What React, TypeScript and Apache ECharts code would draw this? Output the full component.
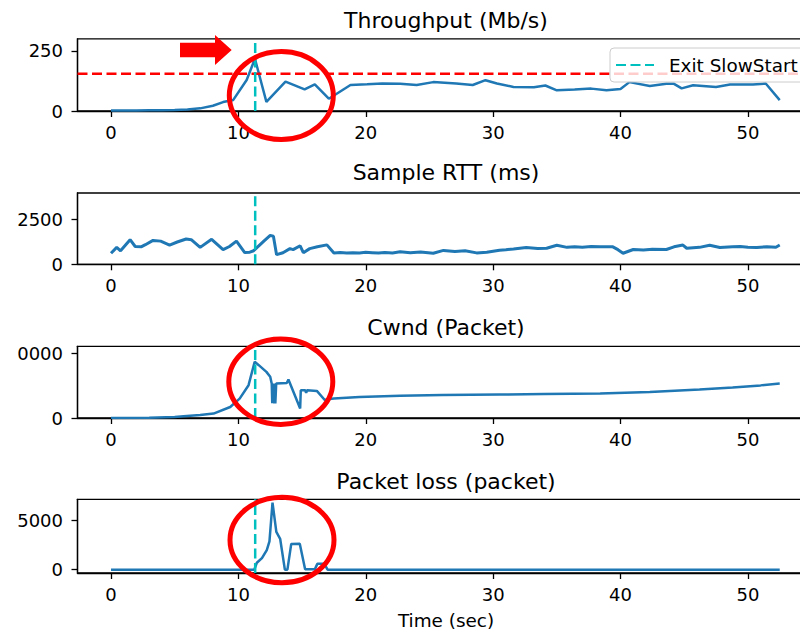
import React, { useEffect, useRef } from "react";
import * as echarts from "echarts";

// ---------- data ----------
const xTicks = [0, 10, 20, 30, 40, 50];
const exitSlowStartTime = 11.32;
const throughputLimit = 155;

const panelTitles = ["Throughput (Mb/s)", "Sample RTT (ms)", "Cwnd (Packet)", "Packet loss (packet)"];
const xAxisTitle = "Time (sec)";
const legendLabel = "Exit SlowStart";

const thrTicks = [0, 250];
const thrTickLabels = ["0", "250"];
const rttTicks = [0, 2500];
const rttTickLabels = ["0", "2500"];
const cwndTicks = [0, 10000];
const cwndTickLabels = ["0", "0000"]; // leading digit is cropped off in the reference
const lossTicks = [0, 5000];
const lossTickLabels = ["0", "5000"];

const thrTime = [0, 1, 2, 3, 4, 5, 6, 7, 8, 8.8, 9.6, 10.65, 11.3, 12.2, 13.7, 15.2, 16.0, 17.1, 18.8, 20.1, 21.3, 22.7, 24.0, 25.3, 27.1, 28.4, 29.4, 30.3, 31.6, 33.2, 34.1, 35.0, 36.4, 37.7, 38.9, 40.0, 40.7, 42.3, 43.6, 44.2, 44.8, 45.7, 47.5, 48.6, 50.4, 51.4, 52.5];
const thrValue = [2, 2, 2, 3, 3, 4, 6, 11, 22, 37, 46, 129, 217, 38, 122, 90, 111, 51, 108, 111, 114, 113, 108, 120, 114, 108, 128, 114, 100, 99, 106, 86, 89, 93, 86, 91, 120, 104, 113, 113, 94, 107, 100, 110, 110, 114, 45];

const rttTime = [0, 0.45, 0.75, 1.5, 1.9, 2.4, 2.7, 3.3, 3.9, 4.6, 5.2, 5.9, 6.3, 7.0, 7.9, 8.8, 9.3, 9.85, 10.5, 10.9, 11.2, 12.0, 12.5, 12.75, 13.0, 13.5, 14.05, 14.3, 14.85, 15.1, 15.6, 16.2, 16.95, 17.5, 18.0, 18.5, 19.0, 19.5, 20.0, 20.5, 21.0, 21.5, 22.1, 22.7, 23.5, 24.3, 25.3, 26.1, 27.0, 27.8, 28.7, 29.5, 30.5, 31.0, 31.6, 32.1, 32.6, 33.5, 34.2, 35.0, 35.8, 36.4, 37.0, 37.7, 38.4, 39.4, 39.8, 40.2, 41.0, 41.8, 42.5, 43.6, 44.2, 44.9, 45.2, 46.2, 47.0, 47.8, 48.8, 49.4, 50.0, 50.7, 51.5, 52.2, 52.5];
const rttValue = [620, 950, 760, 1380, 1000, 990, 1100, 1340, 1300, 1080, 1250, 1420, 1380, 950, 1400, 820, 1000, 1300, 660, 680, 760, 1300, 1620, 1580, 540, 650, 880, 820, 1040, 650, 880, 980, 1090, 640, 660, 630, 650, 640, 670, 650, 630, 660, 640, 700, 650, 690, 620, 780, 720, 760, 640, 680, 790, 820, 860, 900, 940, 880, 900, 1070, 950, 980, 960, 1000, 990, 980, 820, 620, 830, 800, 840, 830, 980, 1080, 900, 950, 1070, 940, 980, 1000, 960, 940, 990, 960, 1080];

const cwndTime = [0, 3, 5, 5.7, 7, 8.05, 9.36, 10.1, 10.8, 11.28, 11.6, 12.2, 12.5, 12.62, 12.66, 12.7, 12.74, 12.78, 12.82, 12.86, 12.9, 12.97, 13.8, 13.93, 14.85, 14.9, 15.25, 15.32, 15.4, 16.16, 16.8, 17.0, 17.5, 19.5, 22.7, 26, 30.5, 34, 38.4, 42.3, 46.2, 48.8, 51, 52.5];
const cwndValue = [0, 30, 150, 264, 450, 680, 1700, 3000, 5080, 8700, 8180, 7140, 6370, 5300, 2300, 5300, 2300, 5340, 2236, 5340, 2236, 5340, 5430, 5960, 1460, 4300, 4300, 3900, 4300, 4190, 2750, 2900, 3010, 3260, 3450, 3550, 3633, 3700, 3790, 4040, 4410, 4720, 5050, 5340];

const lossTime = [0, 11.25, 11.45, 11.85, 12.23, 12.44, 12.68, 12.98, 13.28, 13.65, 13.85, 14.15, 14.82, 15.24, 16.0, 16.2, 16.75, 17.0, 52.5];
const lossValue = [0, 0, 700, 1180, 2000, 2890, 6840, 3850, 3150, 0, 0, 2630, 2650, 30, 30, 590, 590, 0, 0];

// ---------- layout / style ----------
const FONT = "DejaVu Sans";
const BLUE = "#1f77b4";
const CYAN = "#00bfbf";
const RED = "#ff0000";
const X_MIN = -2.63;
const X_MAX = 55.23;
const GRID_LEFT = 77.5;
const GRID_WIDTH = 737;
const panels = [
  { top: 38.8, height: 72.2, min: 0, max: 300, ticks: thrTicks, labels: thrTickLabels, titleTop: 9 },
  { top: 193, height: 71.3, min: 0, max: 4000, ticks: rttTicks, labels: rttTickLabels, titleTop: 161.5 },
  { top: 346.3, height: 71.7, min: 0, max: 11100, ticks: cwndTicks, labels: cwndTickLabels, titleTop: 316.5 },
  { top: 499.3, height: 73.7, min: -342, max: 7180, ticks: lossTicks, labels: lossTickLabels, titleTop: 470.3 },
];

const zip = (a: number[], b: number[]) => a.map((t, i) => [t, b[i]]);

export default function App() {
  const ref = useRef<HTMLDivElement>(null);
  useEffect(() => {
    if (!ref.current) return;
    const chart = echarts.init(ref.current, undefined, { renderer: "svg" });
    const axisLineStyle = { color: "#000", width: 1.3 };
    const labelStyle = { fontFamily: FONT, fontSize: 18, color: "#000" };

    const grid = panels.map((p) => ({
      left: GRID_LEFT,
      width: GRID_WIDTH,
      top: p.top,
      height: p.height,
      show: true,
      borderColor: "#000",
      borderWidth: 1.3,
      backgroundColor: "transparent",
    }));

    const xAxis = panels.map((p, i) => ({
      type: "value",
      gridIndex: i,
      min: X_MIN,
      max: X_MAX,
      axisLine: { show: true, onZero: false, lineStyle: axisLineStyle },
      axisTick: { show: true, length: 6, customValues: xTicks, lineStyle: axisLineStyle },
      axisLabel: { ...labelStyle, margin: 12, customValues: xTicks, formatter: (v: number) => String(v) },
      splitLine: { show: false },
      name: i === 3 ? xAxisTitle : "",
      nameLocation: "middle",
      nameGap: 38.5,
      nameTextStyle: { ...labelStyle, fontSize: 18.4 },
    }));

    const yAxis = panels.map((p, i) => ({
      type: "value",
      gridIndex: i,
      min: p.min,
      max: p.max,
      axisLine: { show: true, onZero: false, lineStyle: axisLineStyle },
      axisTick: { show: true, length: 6, customValues: p.ticks, lineStyle: axisLineStyle },
      axisLabel: {
        ...labelStyle,
        margin: 14.5,
        customValues: p.ticks,
        formatter: (v: number) => {
          const k = p.ticks.indexOf(v);
          return k >= 0 ? p.labels[k] : "";
        },
      },
      splitLine: { show: false },
    }));

    const dataSets = [zip(thrTime, thrValue), zip(rttTime, rttValue), zip(cwndTime, cwndValue), zip(lossTime, lossValue)];
    const series: any[] = [];
    panels.forEach((p, i) => {
      series.push({
        type: "line",
        name: panelTitles[i],
        xAxisIndex: i,
        yAxisIndex: i,
        data: dataSets[i],
        showSymbol: false,
        symbol: "none",
        lineStyle: { color: BLUE, width: i === 1 ? 3 : 2.5 },
        itemStyle: { color: BLUE },
        z: 2,
      });
      if (i === 0) {
        series.push({
          type: "line",
          name: "threshold",
          xAxisIndex: 0,
          yAxisIndex: 0,
          data: [[X_MIN, throughputLimit], [X_MAX, throughputLimit]],
          symbol: "none",
          lineStyle: { color: RED, width: 2.5, type: [10, 4.5] },
          itemStyle: { color: RED },
          z: 3,
        });
      }
      series.push({
        type: "line",
        name: legendLabel,
        xAxisIndex: i,
        yAxisIndex: i,
        data: [[exitSlowStartTime, p.min], [exitSlowStartTime, p.max]],
        symbol: "none",
        lineStyle: { color: CYAN, width: 2.5, type: [10, 4.5] },
        itemStyle: { color: CYAN },
        z: 3,
      });
    });

    const title = panels.map((p, i) => ({
      text: panelTitles[i],
      left: 446,
      top: p.titleTop,
      textAlign: "center",
      padding: 0,
      textStyle: { fontFamily: FONT, fontSize: 22, fontWeight: "normal", color: "#000" },
    }));

    const graphic = [
      {
        type: "polygon",
        z: 100,
        shape: { points: [[180, 42.7], [215, 42.7], [215, 35], [231.7, 50], [215, 65], [215, 57.3], [180, 57.3]] },
        style: { fill: RED },
      },
      { type: "ellipse", z: 100, shape: { cx: 281.3, cy: 95.6, rx: 52, ry: 44 }, style: { fill: "none", stroke: RED, lineWidth: 5 } },
      { type: "ellipse", z: 100, shape: { cx: 280.8, cy: 381.7, rx: 52, ry: 42.7 }, style: { fill: "none", stroke: RED, lineWidth: 5 } },
      { type: "ellipse", z: 100, shape: { cx: 282, cy: 540, rx: 52, ry: 42.7 }, style: { fill: "none", stroke: RED, lineWidth: 5 } },
    ];

    chart.setOption({
      animation: false,
      backgroundColor: "#fff",
      title,
      grid,
      xAxis,
      yAxis,
      series,
      legend: {
        data: [legendLabel],
        left: 610,
        top: 48,
        orient: "vertical",
        padding: [8, 10, 8, 5],
        itemWidth: 38,
        itemHeight: 16,
        backgroundColor: "rgba(255,255,255,0.8)",
        borderColor: "#cccccc",
        borderWidth: 1,
        borderRadius: 4,
        selectedMode: false,
        itemStyle: { opacity: 0 },
        textStyle: { fontFamily: FONT, fontSize: 18.4, color: "#000", padding: [0, 0, 0, 10] },
      },
      graphic,
    });
    return () => chart.dispose();
  }, []);

  return (
    <div style={{ position: "fixed", left: 0, top: 0, width: 800, height: 634, overflow: "hidden", background: "#fff" }}>
      <div ref={ref} style={{ width: 840, height: 634 }} />
    </div>
  );
}
